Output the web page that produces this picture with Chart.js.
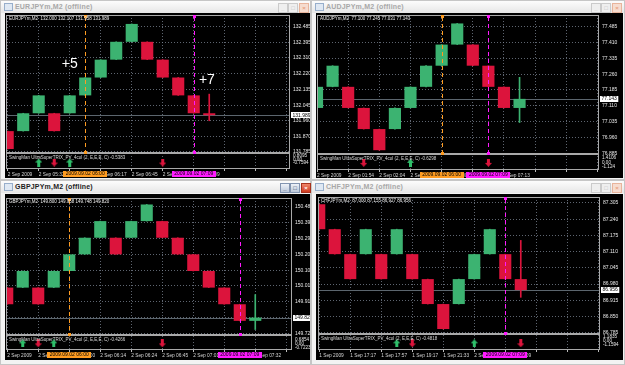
<!DOCTYPE html>
<html>
<head>
<meta charset="utf-8">
<title>Renko M2 charts</title>
<script src="https://cdn.jsdelivr.net/npm/chart.js@4.4.1/dist/chart.umd.min.js"></script>
<style>
  html, body { margin: 0; padding: 0; }
  body { width: 625px; height: 365px; position: relative; overflow: hidden; background: #f1f1f1; font-family: 'Liberation Sans', Arial, sans-serif; }
  .win { position: absolute; box-sizing: border-box; border: 1px solid #c6c6c6; background: #f3f3f3; }
  .title { position: absolute; left: 0; right: 0; top: 0; height: 12px; background: linear-gradient(#fcfcfc, #e6e6e6); font-weight: bold; font-size: 7px; color: #a8a8a8; line-height: 12px; white-space: nowrap; }
  .ico { position: absolute; left: 3px; top: 2px; width: 7px; height: 6px; border: 1px solid #97aecb; background: #dfe8f3; }
  .tt { position: absolute; left: 14px; top: 0; letter-spacing: 0.2px; }
  .btn { position: absolute; top: 2px; width: 8px; height: 8px; border: 1px solid #cbcbcb; background: #efefef; font-size: 6px; line-height: 8px; text-align: center; color: #bdbdbd; }
  .btn.cls { border-color: #e8b49c; background: #f6dccf; color: #e7a080; }
  .active .title { color: #1e1e1e; }
  .active .btn { border-color: #8294b0; background: linear-gradient(#eef2f8, #bcc8da); color: #2c3e60; }
  .active .btn.cls { border-color: #a8321e; background: linear-gradient(#f0866a, #cf3b21); color: #fff; }
  .pane { position: absolute; background: #000; }
  .pane canvas { display: block; }
</style>
</head>
<body>

<div class="win" style="left:0;top:0;width:311px;height:180px">
  <div class="title"><span class="ico"></span><span class="tt">EURJPYm,M2 (offline)</span>
    <span class="btn" style="left:277px">_</span><span class="btn" style="left:287px">□</span><span class="btn cls" style="left:298px">×</span></div>
</div>
<div class="win" style="left:311px;top:0;width:314px;height:180px">
  <div class="title"><span class="ico"></span><span class="tt">AUDJPYm,M2 (offline)</span>
    <span class="btn" style="left:279px">_</span><span class="btn" style="left:289px">□</span><span class="btn cls" style="left:300px">×</span></div>
</div>
<div class="win active" style="left:0;top:180px;width:311px;height:185px">
  <div class="title"><span class="ico"></span><span class="tt">GBPJPYm,M2 (offline)</span>
    <span class="btn" style="left:279px">_</span><span class="btn" style="left:289px">□</span><span class="btn cls" style="left:300px">×</span></div>
</div>
<div class="win" style="left:311px;top:180px;width:314px;height:185px">
  <div class="title"><span class="ico"></span><span class="tt">CHFJPYm,M2 (offline)</span>
    <span class="btn" style="left:279px">_</span><span class="btn" style="left:289px">□</span><span class="btn cls" style="left:300px">×</span></div>
</div>

<div class="pane" style="left:5px;top:13px;width:305px;height:165px"><canvas id="eur" width="305" height="165"></canvas></div>
<div class="pane" style="left:316px;top:13px;width:307px;height:165px"><canvas id="aud" width="307" height="165"></canvas></div>
<div class="pane" style="left:5px;top:194px;width:305px;height:166px"><canvas id="gbp" width="305" height="166"></canvas></div>
<div class="pane" style="left:316px;top:194px;width:307px;height:166px"><canvas id="chf" width="307" height="166"></canvas></div>

<script>
// ---- EURJPY renko boxes (last one is the live candle)
const eurOpen  = [131.90, 131.90, 132.00, 132.00, 132.00, 132.10, 132.20, 132.30, 132.40, 132.40, 132.30, 132.20, 132.10, 132.000];
const eurClose = [131.80, 132.00, 132.10, 131.90, 132.10, 132.20, 132.30, 132.40, 132.50, 132.30, 132.20, 132.10, 132.00, 131.989];
const eurHigh  = [131.90, 132.00, 132.10, 132.00, 132.10, 132.20, 132.30, 132.40, 132.50, 132.40, 132.30, 132.20, 132.10, 132.107];
const eurLow   = [131.80, 131.90, 132.00, 131.90, 132.00, 132.10, 132.20, 132.30, 132.40, 132.30, 132.20, 132.10, 132.00, 131.958];
const eurPriceTicks = [132.485, 132.395, 132.310, 132.220, 132.135, 132.045, 131.960, 131.870, 131.785];
const eurTimeIdx  = [0, 2, 4, 6, 8, 10, 12, 14, 16, 18];
const eurTimeText = ['2 Sep 2009', '2 Sep 05:32', '2 Sep 05:55', '2 Sep 06:17', '2 Sep 06:45', '2 Sep 07:00', '2 Sep 07:09', '', '', ''];
const eurIndTicks = [0.8095, 0, -0.7594];
const eurUp = [2, 4];
const eurDown = [3, 10];
const eurNoteText = ['+5', '+7'];
const eurNoteX = [4.0, 12.85];
const eurNoteY = [132.276, 132.186];

// ---- AUDJPY
const audOpen  = [77.10, 77.20, 77.20, 77.10, 77.00, 77.00, 77.10, 77.20, 77.30, 77.40, 77.40, 77.30, 77.20, 77.100];
const audClose = [77.20, 77.30, 77.10, 77.00, 76.90, 77.10, 77.20, 77.30, 77.40, 77.50, 77.30, 77.20, 77.10, 77.143];
const audHigh  = [77.20, 77.30, 77.20, 77.10, 77.00, 77.10, 77.20, 77.30, 77.40, 77.50, 77.40, 77.30, 77.20, 77.245];
const audLow   = [77.10, 77.20, 77.10, 77.00, 76.90, 77.00, 77.10, 77.20, 77.30, 77.40, 77.30, 77.20, 77.10, 77.031];
const audPriceTicks = [77.485, 77.410, 77.335, 77.260, 77.185, 77.110, 77.035, 76.960, 76.885];
const audTimeIdx  = [0, 2, 4, 6, 8, 10, 12, 14, 16, 18];
const audTimeText = ['2 Sep 2009', '2 Sep 01:54', '2 Sep 02:04', '2 Sep 05:40', '2 Sep 06:00', '2 Sep 06:52', '2 Sep 07:13', '', '', ''];
const audIndTicks = [1.4106, 0, -1.124];
const audUp = [6];
const audDown = [3, 11];

// ---- GBPJPY
const gbpOpen  = [150.00, 150.00, 150.00, 150.00, 150.10, 150.20, 150.30, 150.30, 150.30, 150.40, 150.40, 150.30, 150.20, 150.10, 150.00, 149.90, 149.800];
const gbpClose = [149.90, 150.10, 149.90, 150.10, 150.20, 150.30, 150.40, 150.20, 150.40, 150.50, 150.30, 150.20, 150.10, 150.00, 149.90, 149.80, 149.820];
const gbpHigh  = [150.00, 150.10, 150.00, 150.10, 150.20, 150.30, 150.40, 150.30, 150.40, 150.50, 150.40, 150.30, 150.20, 150.10, 150.00, 149.90, 149.958];
const gbpLow   = [149.90, 150.00, 149.90, 150.00, 150.10, 150.20, 150.30, 150.20, 150.30, 150.40, 150.30, 150.20, 150.10, 150.00, 149.90, 149.80, 149.748];
const gbpPriceTicks = [150.485, 150.390, 150.295, 150.200, 150.105, 150.010, 149.915, 149.820, 149.725];
const gbpTimeIdx  = [0, 2, 4, 6, 8, 10, 12, 14, 16, 18];
const gbpTimeText = ['2 Sep 2009', '2 Sep 05:45', '2 Sep 06:00', '2 Sep 06:14', '2 Sep 06:24', '2 Sep 06:45', '2 Sep 07:01', '2 Sep 07:09', '2 Sep 07:32', ''];
const gbpIndTicks = [0.6854, 0, -0.7223];
const gbpUp = [1, 3];
const gbpDown = [2, 10];

// ---- CHFJPY
const chfOpen  = [87.30, 87.20, 87.10, 87.10, 87.10, 87.10, 87.10, 87.00, 86.90, 86.90, 87.00, 87.10, 87.10, 87.000];
const chfClose = [87.20, 87.10, 87.00, 87.20, 87.00, 87.20, 87.00, 86.90, 86.80, 87.00, 87.10, 87.20, 87.00, 86.956];
const chfHigh  = [87.30, 87.20, 87.10, 87.20, 87.10, 87.20, 87.10, 87.00, 86.90, 87.00, 87.10, 87.20, 87.10, 87.155];
const chfLow   = [87.20, 87.10, 87.00, 87.10, 87.00, 87.10, 87.00, 86.90, 86.80, 86.90, 87.00, 87.10, 87.00, 86.927];
const chfPriceTicks = [87.305, 87.240, 87.175, 87.110, 87.045, 86.980, 86.915, 86.850, 86.785];
const chfTimeIdx  = [0, 2, 4, 6, 8, 10, 12, 14, 16, 18];
const chfTimeText = ['1 Sep 2009', '1 Sep 17:17', '1 Sep 17:57', '1 Sep 19:17', '1 Sep 21:33', '2 Sep 06:31', '2 Sep 07:09', '', '', ''];
const chfIndTicks = [1.1835, 0, -1.1594];
const chfUp = [5, 10];
const chfDown = [6, 13];

const GREEN = '#3cb371', RED = '#dc143c', ORANGE = '#ff9c21', MAGENTA = '#ff1aff';
const GRID = 'rgba(125,135,150,0.75)', FRAME = '#a9a9a9', TXT = '#e6e6e6';
const FONT = "'Liberation Sans', Arial, sans-serif";

Chart.defaults.animation = false;
Chart.defaults.font.family = FONT;

function arrow(color, up) {
  const c = document.createElement('canvas');
  c.width = 7; c.height = 8;
  const g = c.getContext('2d');
  if (!up) { g.translate(0, 8); g.scale(1, -1); }
  g.fillStyle = color;
  g.beginPath();
  g.moveTo(3.5, 0); g.lineTo(7, 4); g.lineTo(5, 4); g.lineTo(5, 8);
  g.lineTo(2, 8); g.lineTo(2, 4); g.lineTo(0, 4);
  g.closePath(); g.fill();
  return c;
}
const upArrow = arrow('#2fbf6a', true);
const downArrow = arrow(RED, false);

function overlay(p) {
  return {
    id: 'overlay',
    beforeDatasetsDraw(chart) {
      const { ctx, chartArea: a, scales: { y } } = chart;
      const yb = Math.round(y.getPixelForValue(p.close[p.close.length - 1])) + 0.5;
      ctx.save();
      ctx.strokeStyle = '#5c666e';
      ctx.beginPath(); ctx.moveTo(a.left, yb); ctx.lineTo(a.right, yb); ctx.stroke();
      ctx.restore();
    },
    afterDraw(chart) {
      const { ctx, chartArea: a, scales: { x, y, y2 } } = chart;
      ctx.save();
      // frames of the main chart and the indicator sub-window
      ctx.strokeStyle = FRAME; ctx.lineWidth = 1;
      ctx.strokeRect(a.left + 0.5, y.top + 0.5, a.width - 1, y.height - 1);
      ctx.strokeRect(a.left + 0.5, y2.top + 0.5, a.width - 1, y2.height - 1);

      // vertical period separators
      p.marks.forEach((m) => {
        const px = Math.round(x.getPixelForValue(m.idx)) + 0.5;
        ctx.strokeStyle = m.color; ctx.fillStyle = m.color;
        ctx.setLineDash([4, 3]);
        ctx.beginPath(); ctx.moveTo(px, y.top + 2); ctx.lineTo(px, y.bottom - 1); ctx.stroke();
        ctx.setLineDash([]);
        ctx.fillRect(px - 1.5, y.top, 3, 3);
        ctx.fillRect(px - 1.5, y.bottom - 2, 3, 3);
      });

      // header and indicator name
      ctx.font = '4.5px ' + FONT;
      ctx.textBaseline = 'top';
      ctx.textAlign = 'left';
      ctx.fillStyle = '#f0f0f0';
      ctx.fillText(p.header, a.left + 3, y.top + 2);
      ctx.fillStyle = '#d8d8d8';
      ctx.fillText(p.indName, a.left + 3, y2.top + 3);

      // notes on the chart
      (p.notes || []).forEach((n) => {
        ctx.font = '14px ' + FONT;
        ctx.fillStyle = '#ffffff';
        ctx.textAlign = 'center'; ctx.textBaseline = 'middle';
        ctx.fillText(n.text, x.getPixelForValue(n.x), y.getPixelForValue(n.y));
      });

      // current price tag
      const last = p.close[p.close.length - 1];
      const ty = y.getPixelForValue(last);
      ctx.font = '5px ' + FONT;
      const tw = ctx.measureText(last.toFixed(3)).width;
      ctx.fillStyle = '#ffffff';
      ctx.fillRect(a.right + 1, Math.round(ty) - 3, tw + 3, 6);
      ctx.fillStyle = '#000000';
      ctx.textAlign = 'left'; ctx.textBaseline = 'middle';
      ctx.fillText(last.toFixed(3), a.right + 2.5, ty);

      // time tags of the separators
      p.marks.forEach((m) => {
        const px = x.getPixelForValue(m.idx);
        ctx.font = '5px ' + FONT;
        const w = ctx.measureText(m.text).width + 5;
        ctx.fillStyle = m.color;
        ctx.fillRect(Math.round(px - w / 2), a.bottom + 2, Math.round(w), 6);
        ctx.fillStyle = '#000000';
        ctx.textAlign = 'center'; ctx.textBaseline = 'middle';
        ctx.fillText(m.text, px, a.bottom + 5);
      });
      ctx.restore();
    }
  };
}

function draw(id, p) {
  const idx = p.open.map((_, i) => i);
  const cols = idx.map((i) => (p.close[i] >= p.open[i] ? GREEN : RED));
  const zeroPad = (s) => { s.paddingTop = 0; s.paddingBottom = 0; s.paddingLeft = 0; s.paddingRight = 0; };
  new Chart(document.getElementById(id), {
    type: 'bar',
    data: {
      datasets: [
        {
          label: 'box',
          data: idx.map((i) => ({ x: i, y: [p.open[i], p.close[i]] })),
          backgroundColor: cols,
          barPercentage: 0.78, categoryPercentage: 1,
          minBarLength: 1, grouped: false, clip: 0, order: 1
        },
        {
          label: 'wick',
          data: idx.map((i) => ({ x: i, y: [p.low[i], p.high[i]] })),
          backgroundColor: cols,
          barThickness: 1, grouped: false, clip: 0, order: 2
        },
        {
          type: 'scatter', label: 'up', yAxisID: 'y2',
          data: p.up.map((i) => ({ x: i, y: p.sig })),
          pointStyle: upArrow, pointRadius: 3, order: 0
        },
        {
          type: 'scatter', label: 'down', yAxisID: 'y2',
          data: p.down.map((i) => ({ x: i, y: p.sig })),
          pointStyle: downArrow, pointRadius: 3, order: 0
        }
      ]
    },
    options: {
      responsive: false,
      layout: { autoPadding: false, padding: { left: p.padL, top: p.padT, right: 0, bottom: 0 } },
      plugins: { legend: { display: false }, tooltip: { enabled: false } },
      scales: {
        x: {
          type: 'linear', min: p.xMin, max: p.xMax, offset: false,
          afterBuildTicks: (s) => { s.ticks = p.timeIdx.map((v) => ({ value: v })); },
          afterFit: (s) => { s.height = p.xH; zeroPad(s); },
          ticks: {
            callback: (v) => p.timeText[p.timeIdx.indexOf(v)] || '',
            align: 'start', maxRotation: 0, autoSkip: false, padding: 1,
            color: '#d6d6d6', font: { size: 4.8 }
          },
          grid: { color: GRID, offset: false, tickLength: 2, tickColor: '#bbbbbb' },
          border: { display: false, dash: [1, 2] }
        },
        y: {
          position: 'right', stack: 'win', stackWeight: p.mainH,
          min: p.yMin, max: p.yMax,
          afterBuildTicks: (s) => { s.ticks = p.priceTicks.map((v) => ({ value: v })); },
          afterFit: (s) => { s.width = p.yW; zeroPad(s); },
          ticks: { callback: (v) => v.toFixed(3), padding: 3, autoSkip: false, color: TXT, font: { size: 5 } },
          grid: { color: GRID, drawTicks: false },
          border: { display: false, dash: [1, 2] }
        },
        y2: {
          position: 'right', stack: 'win', stackWeight: p.indH,
          min: p.indMin, max: p.indMax,
          afterBuildTicks: (s) => { s.ticks = p.indTicks.map((v) => ({ value: v })); },
          afterFit: (s) => { s.width = p.yW; zeroPad(s); },
          ticks: { callback: (v) => (v === 0 ? '0.00' : String(v)), padding: 3, autoSkip: false, color: TXT, font: { size: 4.6 } },
          grid: { display: false, drawTicks: false },
          border: { display: false }
        }
      }
    },
    plugins: [overlay(p)]
  });
}

draw('eur', {
  open: eurOpen, close: eurClose, high: eurHigh, low: eurLow,
  priceTicks: eurPriceTicks, timeIdx: eurTimeIdx, timeText: eurTimeText,
  indTicks: eurIndTicks, up: eurUp, down: eurDown, sig: -0.8,
  notes: eurNoteText.map((t, i) => ({ text: t, x: eurNoteX[i], y: eurNoteY[i] })),
  header: 'EURJPYm,M2  132.000 132.107 131.958 131.989',
  indName: 'SwingMan UltraSuperTRIX_PV_4col (2, E,E,E, C) -0.5383',
  marks: [{ idx: 5, color: ORANGE, text: '2009.09.02 06:00' }, { idx: 12, color: MAGENTA, text: '2009.09.02 07:09' }],
  xMin: -0.11, xMax: 18.21, yMin: 131.7775, yMax: 132.550, indMin: -2.43, indMax: 1.62,
  padL: 1, padT: 2, yW: 20, xH: 9, mainH: 138, indH: 16
});

draw('aud', {
  open: audOpen, close: audClose, high: audHigh, low: audLow,
  priceTicks: audPriceTicks, timeIdx: audTimeIdx, timeText: audTimeText,
  indTicks: audIndTicks, up: audUp, down: audDown, sig: 0,
  header: 'AUDJPYm,M2  77.100 77.245 77.031 77.143',
  indName: 'SwingMan UltraSuperTRIX_PV_4col (2, E,E,E, C) -0.6298',
  marks: [{ idx: 8, color: ORANGE, text: '2009.09.02 06:00' }, { idx: 11, color: MAGENTA, text: '2009.09.02 07:09' }],
  xMin: 0, xMax: 18.1, yMin: 76.882, yMax: 77.540, indMin: -2.15, indMax: 2.65,
  padL: 1, padT: 2, yW: 24, xH: 8, mainH: 139, indH: 16
});

draw('gbp', {
  open: gbpOpen, close: gbpClose, high: gbpHigh, low: gbpLow,
  priceTicks: gbpPriceTicks, timeIdx: gbpTimeIdx, timeText: gbpTimeText,
  indTicks: gbpIndTicks, up: gbpUp, down: gbpDown, sig: 0,
  header: 'GBPJPYm,M2  149.800 149.958 149.748 149.820',
  indName: 'SwingMan UltraSuperTRIX_PV_4col (2, E,E,E, C) -0.4266',
  marks: [{ idx: 4, color: ORANGE, text: '2009.09.02 06:00' }, { idx: 15, color: MAGENTA, text: '2009.09.02 07:09' }],
  xMin: -0.08, xMax: 18.37, yMin: 149.715, yMax: 150.539, indMin: -1.2, indMax: 1.5,
  padL: 1, padT: 4, yW: 18, xH: 10, mainH: 137, indH: 15
});

draw('chf', {
  open: chfOpen, close: chfClose, high: chfHigh, low: chfLow,
  priceTicks: chfPriceTicks, timeIdx: chfTimeIdx, timeText: chfTimeText,
  indTicks: chfIndTicks, up: chfUp, down: chfDown, sig: -0.7,
  header: 'CHFJPYm,M2  87.000 87.155 86.927 86.956',
  indName: 'SwingMan UltraSuperTRIX_PV_4col (2, E,E,E, C) -0.4818',
  marks: [{ idx: 12, color: MAGENTA, text: '2009.09.02 07:09' }],
  xMin: -0.08, xMax: 18.11, yMin: 86.780, yMax: 87.329, indMin: -2.7, indMax: 2.1,
  padL: 2, padT: 3, yW: 23, xH: 10, mainH: 137, indH: 16
});
</script>
</body>
</html>
